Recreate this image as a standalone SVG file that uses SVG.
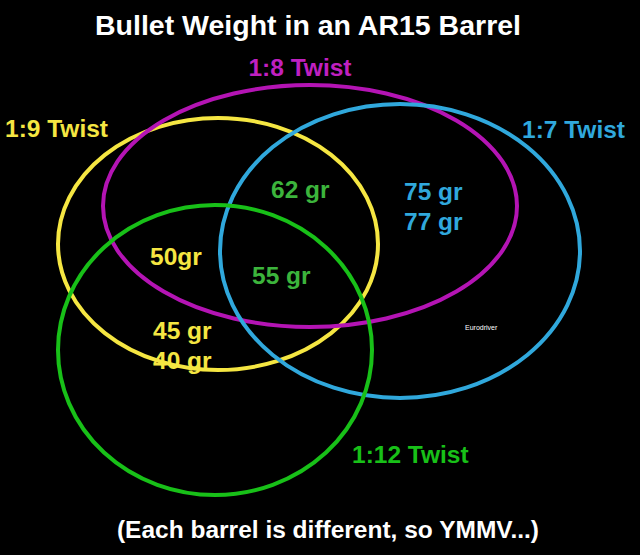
<svg xmlns="http://www.w3.org/2000/svg" width="640" height="555" viewBox="0 0 640 555">
<style>
text{font-family:"Liberation Sans",Arial,sans-serif;font-weight:bold;font-size:24.5px}
.c{fill:none;stroke-width:4}
</style>
<rect width="640" height="555" fill="#000"/>
<g id="circles">
<ellipse id="c9" class="c" cx="218" cy="244" rx="160" ry="126" stroke="#f5e642"/>
<ellipse id="c8" class="c" cx="310" cy="206" rx="207" ry="121" stroke="#b414b4"/>
<ellipse id="c7" class="c" cx="400" cy="251" rx="180" ry="147" stroke="#30a8dc"/>
<ellipse id="c12" class="c" cx="215" cy="350" rx="157" ry="145" stroke="#18c018"/>
</g>
<text x="308" y="35" fill="#fff" style="font-size:28.5px" text-anchor="middle">Bullet Weight in an AR15 Barrel</text>
<text x="300" y="76" fill="#c020c0" text-anchor="middle">1:8 Twist</text>
<text x="5" y="137" fill="#f5e642">1:9 Twist</text>
<text x="522" y="138" fill="#30a8dc">1:7 Twist</text>
<text x="352" y="463" fill="#18c018">1:12 Twist</text>
<text x="271" y="198" fill="#3cb43c">62 gr</text>
<text x="404" y="200" fill="#30a8dc">75 gr</text>
<text x="404" y="230" fill="#30a8dc">77 gr</text>
<text x="150" y="265" fill="#f5e642">50gr</text>
<text x="252" y="284" fill="#3cb43c">55 gr</text>
<text x="153" y="339" fill="#f5e642">45 gr</text>
<text x="153" y="369" fill="#f5e642">40 gr</text>
<text x="465" y="330" fill="#fff" style="font-size:7px;font-weight:normal">Eurodriver</text>
<text x="328" y="538" fill="#fff" text-anchor="middle">(Each barrel is different, so YMMV...)</text>
</svg>
